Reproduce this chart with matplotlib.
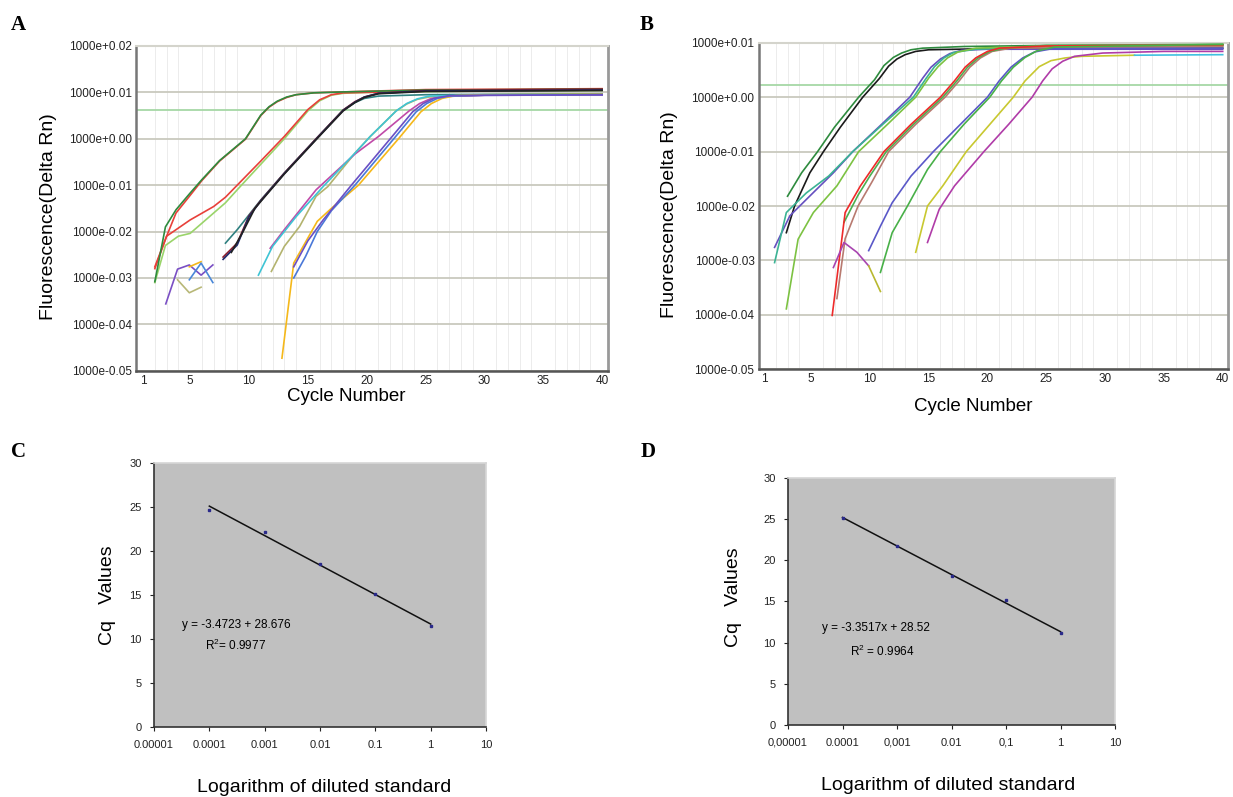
import numpy as np
import matplotlib
matplotlib.use("Agg")
import matplotlib.pyplot as plt
from matplotlib.ticker import NullLocator

plt.rcParams['font.family'] = ['Liberation Sans', 'DejaVu Sans']
plt.rcParams['mathtext.default'] = 'regular'

W, H = 1233, 797

# ---------------- data ----------------
# panels A/B: log10 of Delta Rn (one decade per labelled gridline)
ytick_labels_a = ['1000e-0.05', '1000e-0.04', '1000e-0.03', '1000e-0.02',
                  '1000e-0.01', '1000e+0.00', '1000e+0.01', '1000e+0.02']
ytick_labels_b = ytick_labels_a[:-1]
xticks_cycle = [1, 5, 10, 15, 20, 25, 30, 35, 40]
threshold_a = 0.63
threshold_b = 0.225

# panel A curves: (color, cycles, log10 values)
a_curves = [
    ('#9ad46a', [2.0, 2.9, 4.0, 5.0, 6.0, 7.0, 8.0, 9.0, 11.0, 13.0, 15.0, 16.0, 17.0, 18.0, 20, 30, 40],
                [-3.1, -2.3, -2.1, -2.04, -1.82, -1.6, -1.38, -1.1, -0.55, 0.0, 0.6, 0.82, 0.94, 0.98, 1.0, 1.03, 1.04]),
    ('#e8403a', [2.0, 3.0, 5.0, 7.0, 8.0, 9.0, 11.0, 13.0, 15.0, 16.0, 17.0, 18.0, 20, 30, 40],
                [-2.8, -2.1, -1.75, -1.46, -1.26, -1.0, -0.48, 0.05, 0.63, 0.84, 0.95, 0.99, 1.0, 1.05, 1.06]),
    ('#e8403a', [2.0, 3.0, 3.8, 5.0, 6.0, 7.5, 9.7, 11.0, 11.7, 12.4, 13.2, 14.0, 15.5, 18, 25, 40],
                [-2.76, -2.1, -1.6, -1.22, -0.9, -0.48, -0.01, 0.5, 0.68, 0.8, 0.89, 0.95, 0.99, 1.01, 1.06, 1.08]),
    ('#2e8b3e', [2.0, 2.9, 3.8, 5.0, 6.0, 7.5, 9.7, 11.0, 11.7, 12.4, 13.2, 14.0, 15.5, 18, 25, 40],
                [-3.08, -1.9, -1.53, -1.17, -0.88, -0.47, 0.0, 0.51, 0.69, 0.81, 0.9, 0.95, 0.99, 1.01, 1.05, 1.07]),
    ('#2f8080', [8.0, 9.0, 11.0, 13.0, 15.7, 18.0, 19.0, 19.8, 21.0, 25, 40],
                [-2.25, -1.96, -1.32, -0.74, 0.0, 0.62, 0.78, 0.87, 0.92, 0.95, 0.97]),
    ('#8b1a2a', [7.8, 9.0, 10.0, 11.0, 13.0, 15.7, 18.0, 19.0, 19.8, 21.0, 25, 40],
                [-2.55, -2.25, -1.66, -1.33, -0.74, 0.0, 0.62, 0.8, 0.9, 0.98, 1.04, 1.07]),
    ('#1e2a6a', [7.8, 9.0, 10.0, 11.0, 13.0, 15.7, 18.0, 19.0, 19.8, 21.0, 25, 40],
                [-2.6, -2.29, -1.68, -1.34, -0.75, -0.01, 0.61, 0.79, 0.9, 0.98, 1.03, 1.05]),
    ('#222222', [8.5, 9.5, 10.5, 13.0, 15.7, 18.0, 19.0, 19.8, 21.0, 25, 40],
                [-2.45, -2.0, -1.5, -0.76, -0.02, 0.6, 0.78, 0.89, 0.97, 1.02, 1.04]),
    ('#b3b36e', [11.9, 13.0, 14.3, 15.7, 16.7, 19.0, 20.3, 22.5, 23.4, 24.3, 25.3, 30, 40],
                [-2.86, -2.32, -1.89, -1.24, -1.03, -0.31, 0.05, 0.6, 0.75, 0.85, 0.9, 0.94, 0.95]),
    ('#c04aa8', [11.8, 13.0, 15.7, 19.0, 21.0, 23.6, 24.5, 25.4, 26.5, 30, 40],
                [-2.36, -1.96, -1.1, -0.33, 0.05, 0.6, 0.76, 0.86, 0.91, 0.94, 0.94]),
    ('#3fc4d4', [10.8, 12.0, 14.0, 16.3, 19.0, 20.3, 22.5, 23.4, 24.3, 25.3, 30, 40],
                [-2.94, -2.32, -1.68, -1.03, -0.31, 0.05, 0.6, 0.76, 0.86, 0.92, 0.95, 0.96]),
    ('#f5b81a', [12.8, 13.8, 15.8, 17.0, 19.3, 22.7, 24.6, 25.5, 26.4, 27.5, 30, 40],
                [-4.73, -2.68, -1.78, -1.5, -1.0, 0.0, 0.58, 0.76, 0.87, 0.93, 0.95, 0.96]),
    ('#4a78d8', [13.8, 14.8, 15.8, 17.0, 19.0, 22.3, 24.2, 25.1, 26.0, 27.0, 30, 40],
                [-3.0, -2.54, -2.0, -1.55, -1.0, 0.0, 0.58, 0.76, 0.87, 0.92, 0.94, 0.95]),
    ('#6a4fc4', [13.8, 15.0, 16.3, 18.7, 22.0, 23.9, 24.8, 25.7, 27.0, 40],
                [-2.76, -2.2, -1.75, -1.0, 0.0, 0.58, 0.76, 0.87, 0.93, 0.95]),
    # baseline noise
    ('#7a4fc4', [2.93, 3.93, 4.93, 5.93, 6.93], [-3.56, -2.81, -2.72, -2.94, -2.72]),
    ('#b8b878', [3.93, 4.93, 5.93], [-3.04, -3.32, -3.2]),
    ('#f5b81a', [4.93, 5.93], [-2.76, -2.65]),
    ('#4a88d8', [4.93, 5.93, 6.93], [-3.04, -2.68, -3.1]),
]

# panel B curves
b_curves = [
    ('#2e8b3e', [3.0, 4.2, 5.56, 7.0, 9.05, 10.4, 11.2, 12.0, 12.7, 13.5, 14.5, 18, 25, 40],
                [-1.82, -1.39, -1.0, -0.55, 0.0, 0.32, 0.58, 0.73, 0.81, 0.87, 0.9, 0.93, 0.95, 0.96]),
    ('#1a1a1a', [2.9, 3.6, 4.9, 6.06, 7.5, 9.4, 10.8, 11.6, 12.3, 13.0, 13.9, 15, 20, 40],
                [-2.49, -2.0, -1.39, -1.0, -0.55, 0.0, 0.34, 0.57, 0.7, 0.78, 0.84, 0.87, 0.89, 0.9]),
    ('#6650c0', [1.9, 3.2, 4.6, 6.9, 8.55, 11.0, 13.4, 14.5, 15.2, 16.0, 16.8, 17.8, 20, 40],
                [-2.76, -2.18, -1.88, -1.39, -1.0, -0.5, 0.0, 0.35, 0.55, 0.7, 0.8, 0.86, 0.88, 0.88]),
    ('#3bb394', [1.9, 2.9, 4.6, 6.5, 8.55, 11.1, 13.7, 14.8, 15.5, 16.3, 17.1, 19, 25, 40],
                [-3.04, -2.12, -1.76, -1.45, -1.0, -0.5, 0.0, 0.35, 0.56, 0.72, 0.82, 0.88, 0.92, 0.94]),
    ('#7cc242', [2.9, 3.9, 5.2, 7.2, 9.05, 11.5, 13.9, 15.0, 15.8, 16.6, 17.5, 19, 25, 40],
                [-3.89, -2.61, -2.12, -1.63, -1.0, -0.5, 0.0, 0.35, 0.56, 0.72, 0.83, 0.9, 0.94, 0.96]),
    ('#b87a70', [7.2, 7.9, 9.0, 10.2, 11.6, 13.9, 16.4, 17.6, 18.5, 19.4, 20.4, 22, 40],
                [-3.7, -2.6, -2.0, -1.55, -1.0, -0.5, 0.0, 0.3, 0.55, 0.72, 0.84, 0.9, 0.93]),
    ('#4caf50', [7.8, 9.0, 10.0, 11.4, 13.7, 16.2, 17.4, 18.3, 19.2, 20.2, 21.5, 25, 40],
                [-2.3, -1.8, -1.45, -1.0, -0.5, 0.0, 0.3, 0.55, 0.72, 0.84, 0.9, 0.95, 0.97]),
    ('#ee2a2a', [6.8, 7.9, 9.2, 11.2, 13.5, 16.0, 17.2, 18.1, 19.0, 20.0, 21, 25, 40],
                [-4.01, -2.12, -1.63, -1.0, -0.5, 0.0, 0.3, 0.55, 0.72, 0.84, 0.9, 0.94, 0.96]),
    ('#a844b0', [6.9, 7.8, 8.9, 9.9], [-3.13, -2.67, -2.85, -3.1]),
    ('#b8b830', [9.9, 10.9], [-3.1, -3.57]),
    ('#5a58c8', [9.9, 10.9, 11.9, 13.5, 15.4, 17.7, 20.0, 21.0, 22.0, 23.0, 24.0, 25.5, 40],
                [-2.82, -2.37, -1.94, -1.45, -1.0, -0.5, 0.0, 0.3, 0.55, 0.72, 0.83, 0.89, 0.9]),
    ('#48b048', [10.9, 11.9, 13.2, 14.9, 16.0, 18.0, 20.2, 21.2, 22.2, 23.2, 24.2, 25.7, 40],
                [-3.22, -2.49, -2.0, -1.33, -1.0, -0.5, 0.0, 0.3, 0.55, 0.73, 0.85, 0.92, 0.97]),
    ('#c8c830', [13.9, 14.9, 16.2, 18.2, 20.2, 22.2, 23.2, 24.4, 25.4, 26.6, 28.0, 32.5],
                [-2.85, -2.0, -1.63, -1.0, -0.5, 0.0, 0.3, 0.56, 0.67, 0.72, 0.75, 0.77]),
    ('#40c0e0', [32.5, 40], [0.77, 0.78]),
    ('#b03ca8', [14.9, 15.9, 17.2, 19.7, 21.8, 23.8, 24.7, 25.5, 26.4, 27.4, 29.8, 35, 40],
                [-2.67, -2.06, -1.63, -1.0, -0.5, 0.0, 0.3, 0.52, 0.66, 0.75, 0.81, 0.84, 0.84]),
]

# panels C/D: standard curves
dilution = [0.0001, 0.001, 0.01, 0.1, 1]
cq_c = [24.7, 22.2, 18.5, 15.1, 11.5]
cq_d = [25.15, 21.75, 18.07, 15.16, 11.12]
xlabels_c = ['0.00001', '0.0001', '0.001', '0.01', '0.1', '1', '10']
xlabels_d = ['0,00001', '0.0001', '0,001', '0.01', '0,1', '1', '10']


def rect(l, t, r, b):
    return [l / W, 1 - b / H, (r - l) / W, (b - t) / H]


def amp_axes(ax, curves, ylabels, thr, xlim):
    ax.set_yscale('log')
    ax.set_ylim(1e-5, 10.0 ** (len(ylabels) - 6))
    ax.set_xlim(*xlim)
    for col, cx, cy in curves:
        ax.plot(cx, 10.0 ** np.array(cy), color=col, lw=1.2, zorder=3)
    ax.axhline(10.0 ** thr, color='#a6d8a6', lw=1.3, zorder=2)
    ax.set_yticks([10.0 ** k for k in range(-5, len(ylabels) - 5)])
    ax.set_yticklabels(ylabels, fontsize=8.5)
    ax.yaxis.set_minor_locator(NullLocator())
    ax.set_xticks(xticks_cycle)
    ax.set_xticklabels([str(v) for v in xticks_cycle], fontsize=8.5)
    ax.set_xticks(range(1, 41), minor=True)
    ax.tick_params(axis='both', which='both', length=0, pad=3, colors='#222222')
    ax.grid(axis='y', which='major', color='#c9c9be', lw=1.3, zorder=1)
    ax.grid(axis='x', which='minor', color='#ececec', lw=0.7, zorder=0)
    ax.spines['left'].set_color('#777777')
    ax.spines['left'].set_linewidth(1.8)
    ax.spines['bottom'].set_color('#555555')
    ax.spines['bottom'].set_linewidth(1.8)
    ax.spines['top'].set_color('#d4d4cc')
    ax.spines['top'].set_linewidth(1.5)
    ax.spines['right'].set_color('#999999')
    ax.spines['right'].set_linewidth(2)


def std_axes(ax, cq, xlabels):
    ax.set_facecolor('#c0c0c0')
    ax.set_xscale('log')
    ax.set_xlim(1e-5, 10)
    ax.set_ylim(0, 30)
    ax.plot(dilution, cq, 's', color='#2a2a8a', ms=2, zorder=4)
    k, b = np.polyfit(np.log10(dilution), cq, 1)
    ax.plot(dilution, k * np.log10(dilution) + b, color='#111111', lw=1.1, zorder=3)
    ax.set_xticks([10.0 ** k for k in range(-5, 2)])
    ax.set_xticklabels(xlabels, fontsize=8)
    ax.xaxis.set_minor_locator(NullLocator())
    ax.set_yticks(range(0, 31, 5))
    ax.set_yticklabels([str(v) for v in range(0, 31, 5)], fontsize=8)
    ax.tick_params(axis='both', length=3, width=0.8, pad=6, colors='#222222')
    for s in ['left', 'bottom']:
        ax.spines[s].set_color('#333333')
        ax.spines[s].set_linewidth(1.2)
    for s in ['top', 'right']:
        ax.spines[s].set_color('#d6d6d6')
        ax.spines[s].set_linewidth(1.2)


fig = plt.figure(figsize=(W / 100, H / 100), dpi=100)

# A
ax_a = fig.add_axes(rect(136, 46, 608, 370.7))
amp_axes(ax_a, a_curves, ytick_labels_a, threshold_a, (0.4, 40.5))
fig.text(49 / W, 1 - 217 / H, 'Fluorescence(Delta Rn)', rotation=90, fontsize=14,
         ha='center', va='center')
fig.text(346 / W, 1 - 397 / H, 'Cycle Number', fontsize=13.5, ha='center', va='center')

# B
ax_b = fig.add_axes(rect(758.7, 42.7, 1228, 369.3))
amp_axes(ax_b, b_curves, ytick_labels_b, threshold_b, (0.55, 40.45))
fig.text(669 / W, 1 - 215 / H, 'Fluorescence(Delta Rn)', rotation=90, fontsize=14,
         ha='center', va='center')
fig.text(973 / W, 1 - 407 / H, 'Cycle Number', fontsize=13.5, ha='center', va='center')

# C
ax_c = fig.add_axes(rect(154, 463, 486, 727))
std_axes(ax_c, cq_c, xlabels_c)
ax_c.text(10 ** -4.5, 11.6, 'y = -3.4723 + 28.676', fontsize=8.5, va='center')
ax_c.text(10 ** -4.07, 9.3, 'R$^{2}$= 0.9977', fontsize=8.5, va='center')
fig.text(107 / W, 1 - 595 / H, 'Cq   Values', rotation=90, fontsize=14,
         ha='center', va='center')
fig.text(324 / W, 1 - 787 / H, 'Logarithm of diluted standard', fontsize=14,
         ha='center', va='center')

# D
ax_d = fig.add_axes(rect(788, 477.7, 1115, 725))
std_axes(ax_d, cq_d, xlabels_d)
ax_d.text(10 ** -4.38, 11.73, 'y = -3.3517x + 28.52', fontsize=8.5, va='center')
ax_d.text(10 ** -3.86, 8.9, 'R$^{2}$ = 0.9964', fontsize=8.5, va='center')
fig.text(733 / W, 1 - 597 / H, 'Cq   Values', rotation=90, fontsize=14,
         ha='center', va='center')
fig.text(948 / W, 1 - 785 / H, 'Logarithm of diluted standard', fontsize=14,
         ha='center', va='center')

# panel letters
for lab, px, py in [('A', 18, 25), ('B', 647, 25), ('C', 18, 452), ('D', 648, 452)]:
    fig.text(px / W, 1 - py / H, lab, fontsize=15, fontweight='bold',
             family=['Liberation Serif', 'DejaVu Serif'], ha='center', va='center')

fig.savefig('out.png', dpi=100)
